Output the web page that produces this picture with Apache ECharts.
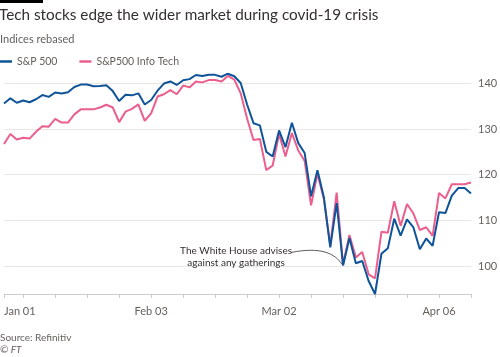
<!DOCTYPE html>
<html>
<head>
<meta charset="utf-8">
<script src="https://cdn.jsdelivr.net/npm/echarts@6/dist/echarts.min.js"></script>
<style>
html,body{margin:0;padding:0;background:#fff;}
#c{width:500px;height:357px;}
</style>
</head>
<body>
<div id="c"></div>
<script>
// ---- data ----
const titleText = 'Tech stocks edge the wider market during covid-19 crisis';
const subtitleText = 'Indices rebased';
const seriesNames = ['S&P 500', 'S&P500 Info Tech'];
const tickLabels = {0: 'Jan 01', 23: 'Feb 03', 43: 'Mar 02', 68: 'Apr 06'};
const yTicks = [100, 110, 120, 130, 140];
const annotationLines = ['The White House advises', 'against any gatherings'];
const annotationIndex = 53;
// weekdays from 1 Jan 2020 to 13 Apr 2020
const dates = (function () {
  const out = [];
  const m = ['Jan','Feb','Mar','Apr'];
  const d = new Date(Date.UTC(2020, 0, 1));
  while (out.length < 74) {
    const wd = d.getUTCDay();
    if (wd !== 0 && wd !== 6) {
      out.push(m[d.getUTCMonth()] + ' ' + String(d.getUTCDate()).padStart(2, '0'));
    }
    d.setUTCDate(d.getUTCDate() + 1);
  }
  return out;
})();
const sp500 = [135.58, 136.71, 135.75, 136.23, 135.85, 136.51, 137.42, 137.03, 137.98, 137.77,
  138.03, 139.19, 139.72, 139.72, 139.35, 139.39, 139.55, 138.29, 136.12, 137.48,
  137.36, 137.80, 135.36, 136.34, 138.38, 139.94, 140.40, 139.64, 140.67, 140.91,
  141.82, 141.58, 141.85, 141.85, 141.43, 142.10, 141.55, 140.07, 135.37, 131.27,
  130.78, 125.00, 123.97, 129.68, 126.03, 131.35, 126.90, 124.73, 115.26, 120.95,
  115.04, 104.10, 113.77, 100.13, 106.14, 100.63, 101.11, 96.72, 93.89, 102.70,
  103.88, 110.37, 106.65, 110.23, 108.46, 103.67, 106.04, 104.44, 111.78, 111.60,
  115.40, 117.07, 117.07, 115.89];
const infoTech = [126.7, 128.9, 127.7, 128.1, 127.9, 129.4, 130.6, 130.5, 132.2, 131.4,
  131.4, 133.2, 134.3, 134.3, 134.3, 134.7, 135.3, 134.7, 131.5, 133.8,
  134.4, 135.4, 131.8, 133.4, 137.1, 137.6, 138.5, 137.6, 139.5, 139.1,
  140.4, 140.2, 140.7, 140.7, 140.4, 141.6, 140.8, 137.8, 132.3, 127.6,
  127.8, 121.0, 122.0, 128.9, 124.0, 129.1, 125.3, 123.0, 113.3, 120.2,
  114.7, 104.5, 116.1, 100.4, 106.8, 101.9, 103.1, 98.2, 97.3, 107.5,
  107.3, 114.2, 108.8, 113.6, 111.5, 107.9, 108.5, 106.6, 116.0, 114.8,
  117.9, 117.9, 117.9, 118.3];

// ---- chart ----
const FONT = 'Lato, "Open Sans", sans-serif';
const DARK = '#33302e', GREY = '#66605c';
const BLUE = '#0f5499', PINK = '#eb5e8d';
const chart = echarts.init(document.getElementById('c'), null, {renderer: 'canvas'});

const option = {
  animation: false,
  backgroundColor: '#fff',
  textStyle: {fontFamily: FONT},
  title: [
    {text: titleText, left: -1, top: 8, padding: 0, textStyle: {fontFamily: FONT, fontSize: 15.3, fontWeight: 'normal', color: DARK}},
    {text: subtitleText, left: 0, top: 34, padding: 0, textStyle: {fontFamily: FONT, fontSize: 11, fontWeight: 'normal', color: GREY}},
    {text: 'Source: Refinitiv', left: 0, top: 333, padding: 0, textStyle: {fontFamily: FONT, fontSize: 10, fontWeight: 'normal', color: GREY}},
    {text: '© FT', left: 0, top: 345, padding: 0, textStyle: {fontFamily: FONT, fontSize: 10, fontWeight: 'normal', fontStyle: 'italic', color: GREY}}
  ],
  legend: {
    data: seriesNames,
    left: 0, top: 56,
    icon: 'rect', itemWidth: 12, itemHeight: 2.5, itemGap: 22,
    padding: 0,
    textStyle: {fontFamily: FONT, fontSize: 10.5, color: GREY}
  },
  grid: {left: 4, right: 29, top: 73.7, bottom: 63, containLabel: false, outerBoundsMode: 'none'},
  xAxis: {
    type: 'category',
    data: dates,
    boundaryGap: false,
    axisLine: {show: true, lineStyle: {color: '#cfcbc8', width: 1}},
    axisTick: {show: true, length: 4, lineStyle: {color: '#cfcbc8'},
      interval: function (i) { return i === 0 || (i >= 3 && (i - 3) % 5 === 0); }},
    axisLabel: {
      interval: function (i) { return tickLabels[i] !== undefined; },
      formatter: function (v, i) { return tickLabels[i] || ''; },
      margin: 12, fontSize: 11, color: GREY, fontFamily: FONT,
      alignMinLabel: 'left'
    },
    splitLine: {show: false}
  },
  yAxis: {
    type: 'value',
    position: 'right',
    min: 'dataMin', max: 'dataMax',
    splitNumber: 5,
    axisLine: {show: false},
    axisTick: {show: false},
    splitLine: {show: false},
    axisLabel: {margin: 7, fontSize: 11, color: GREY, fontFamily: FONT, showMinLabel: false, showMaxLabel: false,
      formatter: function (v) { return yTicks.indexOf(v) >= 0 ? String(v) : ''; }}
  },
  series: [
    {
      name: seriesNames[1], type: 'line', data: infoTech, showSymbol: false, symbol: 'none',
      lineStyle: {color: PINK, width: 2}, itemStyle: {color: PINK}, z: 2,
      markLine: {
        silent: true, symbol: 'none', z: 1, animation: false,
        label: {show: false},
        emphasis: {disabled: true},
        lineStyle: {color: '#e9e6e3', width: 1, type: 'solid'},
        data: yTicks.map(function (v) { return {yAxis: v}; })
      }
    },
    {
      name: seriesNames[0], type: 'line', data: sp500, showSymbol: false, symbol: 'none',
      lineStyle: {color: BLUE, width: 2}, itemStyle: {color: BLUE}, z: 3
    }
  ]
};
chart.setOption(option);

// annotation positioned from the data point
const pt = chart.convertToPixel({xAxisIndex: 0, yAxisIndex: 0}, [annotationIndex, sp500[annotationIndex]]);
chart.setOption({
  graphic: [
    {type: 'text', x: pt[0] - 107, y: pt[1] - 21, z: 10,
      style: {text: annotationLines.join('\n'), align: 'center', verticalAlign: 'top', lineHeight: 12,
        font: '10px ' + FONT, fill: DARK}},
    {type: 'bezierCurve', z: 10,
      shape: {x1: pt[0] - 52, y1: pt[1] - 13, cpx1: pt[0] - 22, cpy1: pt[1] - 19, cpx2: pt[0] - 8, cpy2: pt[1] - 12, x2: pt[0] - 1, y2: pt[1] - 1},
      style: {stroke: DARK, lineWidth: 0.8, fill: null}},
    {type: 'rect', shape: {x: 0, y: 0, width: 43, height: 3}, style: {fill: '#000'}, z: 10}
  ]
});
</script>
</body>
</html>
